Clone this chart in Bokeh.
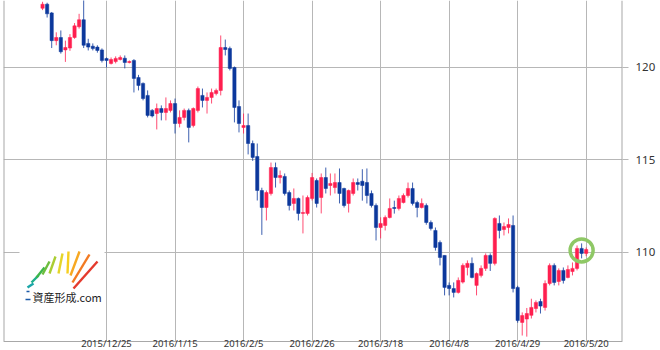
import numpy as np
from bokeh.plotting import figure
from bokeh.models import Range1d, BoxAnnotation
from bokeh.core.properties import value
from bokeh.embed import file_html
from bokeh.resources import INLINE

# Daily USD/JPY candles, 2015/12/7 .. 2016/5/20 (weekdays)
opens = [123.20, 123.42, 122.95, 121.45, 121.62, 120.95, 121.05, 121.62, 122.20, 122.58,
         121.30, 121.15, 121.10, 120.95, 120.48, 120.22, 120.32, 120.43, 120.50, 120.27,
         120.38, 119.46, 119.14, 118.49, 117.68, 117.51, 117.78, 117.57, 117.68, 118.05,
         116.97, 117.30, 117.68, 116.86, 117.68, 118.49, 118.22, 118.38, 118.59, 118.76,
         121.08, 121.03, 120.00, 117.89, 116.76, 116.86, 115.89, 115.19, 113.35, 112.43,
         113.19, 114.59, 114.05, 114.11, 113.24, 112.65, 112.92, 112.11, 112.11, 112.92,
         113.89, 112.97, 114.05, 113.62, 113.51, 113.78, 113.46, 112.65, 113.19, 113.78,
         113.85, 113.78, 113.19, 112.54, 111.35, 111.46, 111.89, 112.43, 112.38, 112.70,
         113.08, 113.46, 112.70, 112.43, 112.54, 111.62, 111.19, 110.54, 109.84, 108.22,
         108.05, 107.84, 108.40, 109.19, 109.41, 108.22, 108.76, 109.14, 109.84, 109.41,
         111.57, 111.24, 111.35, 111.46, 108.11, 106.22, 106.40, 106.60, 106.97, 107.35,
         107.03, 108.32, 109.30, 108.43, 109.03, 108.65, 108.97, 109.14, 110.22, 109.95]
highs = [123.55, 123.50, 123.00, 121.90, 122.00, 121.45, 121.80, 122.40, 122.90, 123.70,
         121.55, 121.30, 121.20, 121.03, 120.54, 120.54, 120.60, 120.65, 120.65, 120.38,
         120.45, 119.60, 119.19, 118.76, 117.75, 118.05, 117.95, 118.38, 118.22, 118.32,
         117.68, 117.78, 117.78, 117.84, 118.97, 118.86, 118.65, 118.86, 118.86, 121.73,
         121.51, 121.13, 120.05, 118.22, 117.51, 117.51, 116.05, 115.89, 113.50, 113.35,
         114.86, 114.86, 114.43, 114.27, 113.35, 113.46, 112.97, 113.08, 113.08, 114.30,
         114.00, 114.27, 114.59, 114.27, 114.27, 114.54, 113.50, 113.40, 114.00, 114.00,
         114.50, 114.54, 113.35, 112.65, 111.90, 112.00, 112.92, 112.80, 113.08, 113.19,
         113.78, 113.78, 112.80, 112.92, 112.65, 111.73, 111.35, 110.65, 109.84, 108.38,
         108.38, 108.65, 109.41, 109.57, 109.73, 108.92, 109.30, 109.95, 109.95, 111.90,
         112.00, 111.62, 111.84, 112.00, 108.20, 106.76, 107.00, 107.50, 107.41, 107.50,
         108.49, 109.41, 109.41, 109.14, 109.19, 109.30, 109.46, 110.38, 110.49, 110.27]
lows = [123.10, 122.70, 121.05, 121.20, 120.75, 120.30, 120.90, 121.55, 122.10, 121.05,
        120.92, 120.92, 120.80, 120.27, 120.00, 120.16, 120.22, 120.38, 119.95, 120.22,
        118.65, 118.76, 118.22, 117.30, 117.30, 116.65, 117.14, 117.14, 117.57, 116.43,
        116.76, 117.14, 115.95, 116.76, 117.57, 117.84, 117.51, 118.05, 118.49, 118.49,
        120.65, 119.84, 117.03, 116.49, 116.43, 115.30, 114.95, 112.81, 110.95, 111.73,
        113.08, 113.51, 113.73, 113.08, 112.27, 112.27, 111.73, 111.03, 112.00, 112.81,
        112.43, 112.11, 113.19, 113.08, 113.19, 112.65, 112.43, 112.16, 113.08, 113.35,
        112.80, 112.65, 112.43, 110.65, 110.76, 111.19, 111.84, 112.10, 112.27, 112.65,
        112.97, 112.54, 111.90, 112.38, 111.50, 111.19, 110.10, 109.30, 107.68, 107.68,
        107.57, 107.78, 108.32, 108.76, 108.60, 107.68, 108.65, 109.00, 109.00, 109.30,
        110.76, 110.92, 111.03, 107.84, 106.20, 105.51, 105.45, 106.43, 106.76, 106.70,
        106.86, 108.22, 108.22, 108.22, 108.32, 108.60, 108.76, 109.03, 109.68, 109.80]
closes = [123.42, 122.90, 121.45, 121.62, 120.85, 121.08, 121.62, 122.25, 122.58, 121.20,
          121.10, 121.02, 120.92, 120.38, 120.38, 120.43, 120.49, 120.54, 120.27, 120.32,
          119.41, 119.03, 118.32, 117.41, 117.38, 117.78, 117.57, 117.78, 118.05, 116.97,
          117.30, 117.68, 116.76, 117.78, 118.86, 118.22, 118.38, 118.65, 118.76, 121.08,
          120.97, 119.95, 117.84, 116.97, 116.86, 115.89, 115.14, 113.35, 112.43, 113.24,
          114.59, 114.05, 114.16, 113.19, 112.54, 112.92, 112.11, 112.16, 112.97, 114.05,
          112.65, 114.05, 113.46, 113.73, 113.78, 113.19, 112.54, 113.35, 113.78, 113.68,
          113.62, 113.08, 112.54, 111.35, 111.57, 111.89, 112.38, 112.38, 112.92, 113.08,
          113.46, 112.65, 112.43, 112.65, 111.62, 111.30, 110.27, 109.73, 108.11, 108.05,
          107.84, 108.49, 109.30, 109.41, 108.65, 108.86, 109.14, 109.84, 109.41, 111.84,
          111.19, 111.40, 111.51, 108.05, 106.32, 106.59, 106.70, 107.03, 107.30, 107.10,
          108.32, 109.30, 108.38, 109.03, 108.49, 109.08, 109.14, 110.22, 109.95, 110.16]

tick_idx = [14, 29, 44, 59, 74, 89, 104, 119]
tick_labels = ["2015/12/25", "2016/1/15", "2016/2/5", "2016/2/26",
               "2016/3/18", "2016/4/8", "2016/4/29", "2016/5/20"]
y_ticks = [110, 115, 120]

UP, DN = "#ff1f4f", "#0c389c"
GRID = "#b7b7b7"
AXIS = "#a8a8a8"

n = len(opens)
idx = list(range(n))
colors = [UP if c >= o else DN for o, c in zip(opens, closes)]
tops = [max(o, c) for o, c in zip(opens, closes)]
bots = [min(o, c) for o, c in zip(opens, closes)]

# frame: x 3..622 px, y 0..350 px (18.5 px per yen); chart box bottom at 341 px
FL, FW, FH = 3.0, 619.0, 350.0
X0, X1 = -8.55, 126.95
Y1 = 123.62
Y0 = Y1 - FH / 18.5
YB = Y1 - 341.0 / 18.5          # bottom edge of the chart box

def xd(px):
    return X0 + (px - FL) / FW * (X1 - X0)

def yd(py):
    return Y1 - py / FH * (Y1 - Y0)

p = figure(width=660, height=350, output_backend="svg", toolbar_location=None,
           x_range=Range1d(X0, X1), y_range=Range1d(Y0, Y1),
           y_axis_location="right",
           min_border_left=3, min_border_right=38, min_border_top=0, min_border_bottom=0,
           background_fill_color="white", border_fill_color="white",
           outline_line_color=None)

p.xaxis.visible = False
p.xgrid.ticker = tick_idx
p.yaxis.ticker = y_ticks
p.grid.grid_line_color = GRID
p.grid.grid_line_width = 1

p.yaxis.axis_line_color = None
p.yaxis.major_tick_out = 6
p.yaxis.major_tick_in = 0
p.yaxis.major_tick_line_color = GRID
p.yaxis.minor_tick_line_color = None
p.yaxis.major_label_standoff = 7
p.yaxis.major_label_text_font = "Noto Sans"
p.yaxis.major_label_text_font_size = "11.5px"
p.yaxis.major_label_text_color = "#333333"

# strip under the chart box for the date labels (hides the grid there)
p.add_layout(BoxAnnotation(bottom=Y0, top=YB, fill_color="white", fill_alpha=1.0,
                           line_color=None, level="underlay"))
# logo background (decoration), under the glyphs but over the grid
p.add_layout(BoxAnnotation(left=xd(19), right=xd(104), top=yd(236), bottom=yd(306),
                           fill_color="white", fill_alpha=1.0, line_color=None,
                           level="underlay"))

# chart box borders: left, right, bottom
p.segment(x0=[X0, X1, X0], y0=[YB, YB, YB], x1=[X0, X1, X1], y1=[Y1, Y1, YB],
          line_color=AXIS, line_width=[2, 2, 1])

# candles
p.segment(x0=idx, y0=lows, x1=idx, y1=highs, line_color=colors, line_width=1, line_alpha=0.8)
p.vbar(x=idx, top=tops, bottom=bots, width=0.72, fill_color=colors, line_color=colors, line_width=0.5)

# date labels under the box
p.text(x=tick_idx, y=[yd(349.0)] * len(tick_idx), text=tick_labels,
       text_align="center", text_baseline="bottom",
       text_font=value("Noto Sans"), text_font_size="9.5px", text_color="#333333")

# highlight of the latest price
p.scatter(x=[idx[-2]], y=[float(np.mean(closes[-3:]))], size=23, fill_color=None,
          line_color="#8fc866", line_width=3.5)

# logo (decoration)
rays = [((27, 287), (33, 283), "#1ba6a8"),
        ((31, 282), (38, 275), "#1fae8a"),
        ((36, 277), (44, 267), "#3db54a"),
        ((42, 274), (49, 261), "#6cbd3d"),
        ((49, 273), (55, 256), "#aacd32"),
        ((58, 273), (62, 253), "#e4d529"),
        ((67, 273), (68, 251), "#f6cf1f"),
        ((70, 275), (79, 251), "#f7a822"),
        ((72, 282), (89, 254), "#f27a22"),
        ((73, 288), (97, 261), "#e43a2d")]
p.segment(x0=[xd(a[0]) for a, b, c in rays], y0=[yd(a[1]) for a, b, c in rays],
          x1=[xd(b[0]) for a, b, c in rays], y1=[yd(b[1]) for a, b, c in rays],
          line_color=[c for a, b, c in rays], line_width=2.4)
p.segment(x0=[xd(26), xd(25)], y0=[yd(291), yd(299)], x1=[xd(29), xd(30)], y1=[yd(291), yd(299)],
          line_color="#1b5aa8", line_width=1.6)
p.text(x=[xd(32)], y=[yd(296)], text=["資産形成.com"], text_baseline="middle",
       text_align="left", text_font=value("Noto Sans CJK JP"), text_font_size="11px",
       text_color="#222222")

open("out.html", "w").write(file_html(p, INLINE))
